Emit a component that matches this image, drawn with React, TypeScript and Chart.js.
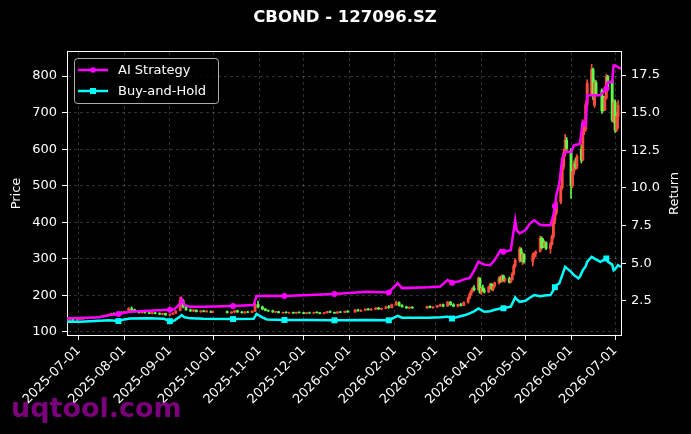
import React, { useEffect, useRef } from 'react';
import { Chart, registerables } from 'chart.js';

Chart.register(...registerables);

// ---------------- DATA ----------------
const chartTitle = 'CBOND - 127096.SZ';
const seriesLabels = ['AI Strategy', 'Buy-and-Hold'];
const leftAxisTitle = 'Price';
const rightAxisTitle = 'Return';
const watermark = 'uqtool.com';

const monthTicks = [
  '2025-07-01', '2025-08-01', '2025-09-01', '2025-10-01', '2025-11-01', '2025-12-01', '2026-01-01',
  '2026-02-01', '2026-03-01', '2026-04-01', '2026-05-01', '2026-06-01', '2026-07-01',
];
const priceTicks = [100, 200, 300, 400, 500, 600, 700, 800];
const returnTicks = [2.5, 5.0, 7.5, 10.0, 12.5, 15.0, 17.5];

const candleDates = [
  '2025-06-23', '2025-06-25', '2025-06-27', '2025-06-30',
  '2025-07-02', '2025-07-04', '2025-07-07', '2025-07-09', '2025-07-11', '2025-07-14', '2025-07-16', '2025-07-18', '2025-07-21', '2025-07-23', '2025-07-25', '2025-07-28', '2025-07-30',
  '2025-08-01', '2025-08-04', '2025-08-06', '2025-08-08', '2025-08-11', '2025-08-13', '2025-08-15', '2025-08-18', '2025-08-20', '2025-08-22', '2025-08-25', '2025-08-27', '2025-08-29',
  '2025-09-01', '2025-09-03', '2025-09-05', '2025-09-08', '2025-09-10', '2025-09-12', '2025-09-15', '2025-09-17', '2025-09-19', '2025-09-22', '2025-09-24', '2025-09-26', '2025-09-29', '2025-09-30',
  '2025-10-10', '2025-10-13', '2025-10-15', '2025-10-17', '2025-10-20', '2025-10-22', '2025-10-24', '2025-10-27', '2025-10-29', '2025-10-31',
  '2025-11-03', '2025-11-05', '2025-11-07', '2025-11-10', '2025-11-12', '2025-11-14', '2025-11-17', '2025-11-19', '2025-11-21', '2025-11-24', '2025-11-26', '2025-11-28',
  '2025-12-01', '2025-12-03', '2025-12-05', '2025-12-08', '2025-12-10', '2025-12-12', '2025-12-15', '2025-12-17', '2025-12-19', '2025-12-22', '2025-12-24', '2025-12-26', '2025-12-29', '2025-12-31',
  '2026-01-05', '2026-01-07', '2026-01-09', '2026-01-12', '2026-01-14', '2026-01-16', '2026-01-19', '2026-01-21', '2026-01-23', '2026-01-26', '2026-01-28', '2026-01-30',
  '2026-02-02', '2026-02-04', '2026-02-06', '2026-02-09', '2026-02-11', '2026-02-13', '2026-02-23', '2026-02-25', '2026-02-27',
  '2026-03-02', '2026-03-04', '2026-03-06', '2026-03-09', '2026-03-11', '2026-03-13', '2026-03-16', '2026-03-18', '2026-03-20',
  '2026-03-23', '2026-03-24', '2026-03-25', '2026-03-26', '2026-03-27', '2026-03-30', '2026-03-31',
  '2026-04-01', '2026-04-02', '2026-04-03', '2026-04-06', '2026-04-07', '2026-04-08', '2026-04-09', '2026-04-10', '2026-04-13', '2026-04-14', '2026-04-15', '2026-04-16', '2026-04-17', '2026-04-20', '2026-04-21', '2026-04-22', '2026-04-23', '2026-04-24', '2026-04-27', '2026-04-28', '2026-04-29', '2026-04-30',
  '2026-05-06', '2026-05-07', '2026-05-08', '2026-05-11', '2026-05-12', '2026-05-13', '2026-05-14', '2026-05-15', '2026-05-18', '2026-05-19', '2026-05-20', '2026-05-21', '2026-05-22', '2026-05-25', '2026-05-26', '2026-05-27', '2026-05-28', '2026-05-29',
  '2026-06-01', '2026-06-02', '2026-06-03', '2026-06-04', '2026-06-05', '2026-06-08', '2026-06-09', '2026-06-10', '2026-06-11', '2026-06-12', '2026-06-15', '2026-06-16', '2026-06-17', '2026-06-18', '2026-06-22', '2026-06-23', '2026-06-24', '2026-06-25', '2026-06-26', '2026-06-29', '2026-06-30',
  '2026-07-01', '2026-07-02', '2026-07-03',
];

const openPrices = [
  131, 132, 133, 132,
  134, 135, 136, 137, 138, 139, 141, 142, 144, 147, 149, 148, 152,
  151, 155, 163, 160, 155, 152, 154, 152, 150, 152, 150, 148, 150,
  146, 148, 151, 158, 186, 168, 160, 157, 159, 155, 157, 155, 156, 153,
  155, 152, 154, 157, 154, 152, 154, 153, 156, 174,
  168, 162, 158, 157, 154, 155, 152, 153, 152, 153, 151, 153,
  152, 150, 152, 151, 153, 152, 150, 152, 155, 153, 151, 154, 153, 156,
  154, 159, 157, 159, 162, 160, 162, 165, 162, 164, 168, 166,
  174, 180, 172, 168, 165, 167, 165, 169, 166,
  168, 171, 174, 170, 181, 174, 170, 175, 172,
  180, 192, 203, 212, 219, 215, 246,
  208, 219, 212, 209, 223, 230, 217, 224, 234, 247, 238, 253, 241, 245, 236, 243, 258, 280, 296, 326, 296, 312,
  292, 310, 314, 320, 356, 350, 334, 344, 328, 340, 360, 405, 425, 455, 495, 552, 590, 625,
  596, 500, 540, 560, 550, 600, 570, 648, 655, 722, 752, 818, 720, 782, 761, 740, 708, 740, 798, 788, 680,
  728, 652, 690,
];
const highPrices = [
  133, 134, 134, 135,
  136, 137, 138, 139, 140, 142, 143, 145, 148, 151, 152, 153, 155,
  156, 166, 168, 162, 157, 155, 156, 154, 153, 153, 152, 151, 151,
  149, 152, 158, 195, 188, 170, 162, 161, 160, 158, 159, 158, 157, 156,
  157, 155, 158, 159, 156, 155, 156, 157, 178, 184,
  170, 164, 160, 159, 156, 156, 154, 155, 154, 154, 154, 155,
  153, 153, 154, 154, 155, 153, 153, 156, 157, 154, 155, 156, 157, 158,
  161, 162, 160, 163, 164, 163, 166, 167, 165, 170, 172, 176,
  184, 182, 174, 170, 168, 169, 170, 171, 169,
  172, 176, 176, 183, 183, 177, 176, 178, 182,
  195, 206, 215, 222, 226, 250, 248,
  222, 228, 220, 225, 233, 232, 226, 236, 250, 252, 256, 255, 248, 250, 246, 262, 284, 300, 332, 330, 318, 314,
  315, 318, 322, 362, 360, 355, 348, 346, 345, 365, 410, 430, 460, 500, 560, 600, 640, 632,
  602, 545, 568, 575, 585, 612, 680, 660, 730, 790, 832, 822, 790, 788, 765, 745, 745, 805, 802, 792, 735,
  735, 700, 733,
];
const lowPrices = [
  129, 130, 131, 131,
  133, 134, 135, 136, 137, 138, 140, 141, 143, 145, 147, 147, 150,
  150, 154, 158, 153, 151, 150, 151, 149, 148, 149, 147, 146, 145,
  144, 147, 150, 157, 165, 158, 155, 155, 154, 153, 154, 153, 152, 152,
  151, 150, 152, 153, 151, 150, 152, 152, 155, 165,
  160, 157, 155, 153, 152, 151, 150, 151, 150, 150, 150, 151,
  149, 149, 150, 150, 151, 149, 149, 151, 152, 150, 150, 152, 152, 153,
  153, 156, 155, 158, 159, 158, 160, 161, 160, 163, 164, 165,
  172, 170, 167, 164, 163, 164, 164, 165, 164,
  166, 169, 168, 169, 172, 168, 168, 170, 171,
  178, 190, 200, 208, 212, 213, 205,
  202, 210, 206, 207, 218, 214, 212, 222, 230, 235, 236, 238, 236, 233, 234, 241, 255, 276, 290, 292, 284, 288,
  280, 300, 305, 318, 326, 330, 330, 325, 315, 336, 355, 395, 420, 450, 490, 545, 580, 595,
  465, 495, 530, 545, 545, 562, 568, 640, 650, 715, 748, 735, 714, 745, 698, 704, 705, 736, 760, 675, 672,
  646, 648, 657,
];
const closePrices = [
  132, 133, 132, 134,
  135, 136, 137, 138, 139, 141, 142, 144, 147, 149, 148, 152, 151,
  155, 163, 160, 155, 152, 154, 152, 150, 152, 150, 148, 150, 146,
  148, 151, 156, 186, 168, 160, 157, 159, 155, 157, 155, 156, 153, 155,
  152, 154, 157, 154, 152, 154, 153, 156, 174, 168,
  162, 158, 157, 154, 155, 152, 153, 152, 153, 151, 153, 152,
  150, 152, 151, 153, 152, 150, 152, 155, 153, 151, 154, 153, 156, 154,
  159, 157, 159, 162, 160, 162, 165, 162, 164, 168, 166, 174,
  180, 172, 168, 165, 167, 165, 169, 166, 168,
  171, 174, 170, 181, 174, 170, 175, 172, 180,
  192, 203, 212, 219, 215, 246, 208,
  219, 212, 209, 223, 230, 217, 224, 234, 247, 238, 253, 241, 245, 236, 243, 258, 280, 296, 326, 296, 312, 292,
  310, 314, 318, 356, 330, 334, 344, 328, 340, 360, 405, 425, 455, 495, 552, 590, 625, 602,
  500, 540, 560, 550, 580, 570, 672, 655, 722, 780, 818, 745, 782, 750, 705, 708, 740, 798, 765, 680, 728,
  652, 690, 720,
];

const lineDates = [
  '2025-06-23', '2025-07-02', '2025-07-15', '2025-07-22', '2025-07-28', '2025-08-01', '2025-08-05', '2025-08-18',
  '2025-08-28', '2025-09-01', '2025-09-04', '2025-09-08', '2025-09-09', '2025-09-11', '2025-09-15', '2025-09-24',
  '2025-10-14', '2025-10-28', '2025-10-30', '2025-11-03', '2025-11-06', '2025-11-18', '2025-12-05', '2025-12-22',
  '2026-01-13', '2026-01-28', '2026-02-03', '2026-02-06', '2026-02-24', '2026-03-04', '2026-03-09', '2026-03-12',
  '2026-03-17', '2026-03-21', '2026-03-24', '2026-03-27', '2026-03-30', '2026-04-03', '2026-04-07', '2026-04-10',
  '2026-04-14', '2026-04-16', '2026-04-21', '2026-04-24', '2026-04-25', '2026-04-27', '2026-05-01', '2026-05-04',
  '2026-05-07', '2026-05-11', '2026-05-14', '2026-05-18', '2026-05-20', '2026-05-21', '2026-05-22', '2026-05-24',
  '2026-05-26', '2026-05-28', '2026-06-01', '2026-06-03', '2026-06-06', '2026-06-07', '2026-06-09', '2026-06-11',
  '2026-06-12', '2026-06-15', '2026-06-17', '2026-06-21', '2026-06-25', '2026-06-26', '2026-06-29', '2026-06-30',
  '2026-07-01', '2026-07-03', '2026-07-05',
];
const aiReturn = [
  1.33, 1.35, 1.40, 1.55, 1.62, 1.70, 1.77, 1.84,
  1.88, 1.90, 1.93, 2.30, 2.62, 2.20, 2.10, 2.10,
  2.15, 2.21, 2.81, 2.82, 2.83, 2.81, 2.88, 2.95,
  3.10, 3.05, 3.67, 3.34, 3.40, 3.45, 3.87, 3.70,
  3.80, 3.95, 4.00, 4.50, 5.09, 4.90, 4.87, 5.20,
  5.86, 5.75, 5.86, 7.85, 7.20, 6.97, 7.19, 7.63,
  7.85, 7.55, 7.52, 7.52, 8.19, 8.80, 9.51, 10.29,
  11.95, 12.39, 12.39, 12.83, 12.90, 12.94, 14.38, 14.16,
  16.15, 16.15, 16.15, 16.15, 16.60, 17.03, 17.03, 18.14,
  18.14, 18.03, 17.92,
];
const bhReturn = [
  1.11, 1.11, 1.17, 1.20, 1.15, 1.26, 1.32, 1.33,
  1.30, 1.14, 1.18, 1.45, 1.55, 1.40, 1.33, 1.30,
  1.28, 1.30, 1.62, 1.40, 1.26, 1.22, 1.22, 1.20,
  1.22, 1.20, 1.50, 1.37, 1.37, 1.40, 1.44, 1.32,
  1.45, 1.55, 1.66, 1.80, 1.99, 1.77, 1.80, 1.90,
  1.99, 2.00, 2.10, 2.72, 2.60, 2.43, 2.50, 2.70,
  2.88, 2.80, 2.85, 2.88, 3.20, 3.40, 3.54, 3.65,
  4.20, 4.75, 4.42, 4.20, 3.99, 4.09, 4.53, 4.80,
  5.10, 5.42, 5.30, 5.09, 5.31, 5.10, 4.90, 4.53,
  4.60, 4.87, 4.75,
];
const markerDates = [
  '2025-07-28', '2025-09-01', '2025-10-14', '2025-11-18', '2025-12-22', '2026-01-28',
  '2026-03-12', '2026-04-16', '2026-05-21', '2026-06-25',
];

// ---------------- HELPERS ----------------
const BASE = Date.UTC(2025, 6, 1);
const toDay = (s: string) => {
  const [y, m, d] = s.split('-').map(Number);
  return (Date.UTC(y, m - 1, d) - BASE) / 86400000;
};
const fmtDay = (v: number) => new Date(BASE + Math.round(v) * 86400000).toISOString().slice(0, 10);

const FONT = "'DejaVu Sans', 'Liberation Sans', sans-serif";
const UP = '#ff4b3c';
const DOWN = '#5dff48';
const MAGENTA = '#ff00ff';
const CYAN = '#00ffff';
const GRID = 'rgba(255,255,255,0.28)';

export default function App() {
  const ref = useRef<HTMLCanvasElement>(null);

  useEffect(() => {
    const candleDays = candleDates.map(toDay);
    const colors = closePrices.map((c, i) => (c >= openPrices[i] ? UP : DOWN));

    const overlay = {
      id: 'overlay',
      beforeDraw(chart: any) {
        const ctx = chart.ctx;
        ctx.save();
        ctx.fillStyle = '#000';
        ctx.fillRect(0, 0, chart.width, chart.height);
        ctx.restore();
      },
      afterDraw(chart: any) {
        const ctx = chart.ctx;
        const a = chart.chartArea;
        ctx.save();
        // top spine
        ctx.strokeStyle = '#ffffff';
        ctx.lineWidth = 1;
        ctx.beginPath();
        ctx.moveTo(Math.round(a.left), Math.round(a.top) - 0.5);
        ctx.lineTo(Math.round(a.right) + 1, Math.round(a.top) - 0.5);
        ctx.stroke();

        // title
        ctx.fillStyle = '#ffffff';
        ctx.font = `bold 16.5px ${FONT}`;
        ctx.textAlign = 'center';
        ctx.textBaseline = 'middle';
        ctx.fillText(chartTitle, 345, 18);

        // axis titles (matplotlib style: both read bottom-to-top)
        const midY = (a.top + a.bottom) / 2;
        ctx.font = `13px ${FONT}`;
        ctx.textAlign = 'center';
        ctx.textBaseline = 'middle';
        ctx.save();
        ctx.translate(17, midY);
        ctx.rotate(-Math.PI / 2);
        ctx.fillText(leftAxisTitle, 0, 0);
        ctx.restore();
        ctx.save();
        ctx.translate(674.5, midY);
        ctx.rotate(-Math.PI / 2);
        ctx.fillText(rightAxisTitle, 0, 0);
        ctx.restore();

        // legend
        const lx = 74.5, ly = 58.5, lw = 144, lh = 45;
        ctx.beginPath();
        if ((ctx as any).roundRect) (ctx as any).roundRect(lx, ly, lw, lh, 3);
        else ctx.rect(lx, ly, lw, lh);
        ctx.fillStyle = 'rgba(0,0,0,0.8)';
        ctx.fill();
        ctx.strokeStyle = 'rgba(205,205,205,0.85)';
        ctx.lineWidth = 1;
        ctx.stroke();
        const entryColors = [MAGENTA, CYAN];
        seriesLabels.forEach((label, i) => {
          const y = 70 + i * 21;
          ctx.strokeStyle = entryColors[i];
          ctx.lineWidth = 2.5;
          ctx.beginPath();
          ctx.moveTo(78, y);
          ctx.lineTo(108, y);
          ctx.stroke();
          ctx.fillStyle = entryColors[i];
          if (i === 0) {
            ctx.beginPath();
            ctx.arc(93, y, 2.8, 0, Math.PI * 2);
            ctx.fill();
          } else {
            ctx.fillRect(90, y - 3, 6, 6);
          }
          ctx.fillStyle = '#ffffff';
          ctx.font = `13px ${FONT}`;
          ctx.textAlign = 'left';
          ctx.textBaseline = 'middle';
          ctx.fillText(label, 118, y + 0.5);
        });

        // watermark
        ctx.fillStyle = 'rgba(170,0,170,0.72)';
        ctx.font = `bold 27px ${FONT}`;
        ctx.textAlign = 'left';
        ctx.textBaseline = 'alphabetic';
        ctx.fillText(watermark, 11, 417);
        ctx.restore();
      },
    };

    const tickFont = { family: FONT, size: 13 };

    const chart = new Chart(ref.current as HTMLCanvasElement, {
      type: 'bar',
      data: {
        datasets: [
          {
            type: 'line',
            label: seriesLabels[0],
            data: lineDates.map((d, i) => ({ x: toDay(d), y: aiReturn[i] })),
            yAxisID: 'y1',
            borderColor: MAGENTA,
            backgroundColor: MAGENTA,
            borderWidth: 2.5,
            pointRadius: lineDates.map((d) => (markerDates.includes(d) ? 3 : 0)),
            pointStyle: 'circle',
            pointBorderWidth: 0,
            tension: 0,
            order: 0,
          } as any,
          {
            type: 'line',
            label: seriesLabels[1],
            data: lineDates.map((d, i) => ({ x: toDay(d), y: bhReturn[i] })),
            yAxisID: 'y1',
            borderColor: CYAN,
            backgroundColor: CYAN,
            borderWidth: 2.5,
            pointRadius: lineDates.map((d) => (markerDates.includes(d) ? 4.2 : 0)),
            pointStyle: 'rect',
            pointBorderWidth: 0,
            tension: 0,
            order: 0,
          } as any,
          {
            type: 'bar',
            label: 'wick',
            data: candleDays.map((x, i) => ({ x, y: [lowPrices[i], highPrices[i]] })),
            yAxisID: 'y',
            backgroundColor: colors,
            borderWidth: 0,
            barThickness: 1,
            grouped: false,
            order: 2,
          } as any,
          {
            type: 'bar',
            label: 'body',
            data: candleDays.map((x, i) => ({
              x,
              y: [Math.min(openPrices[i], closePrices[i]), Math.max(openPrices[i], closePrices[i])],
            })),
            yAxisID: 'y',
            backgroundColor: colors,
            borderWidth: 0,
            barThickness: 2.2,
            grouped: false,
            order: 1,
          } as any,
        ],
      },
      options: {
        responsive: false,
        maintainAspectRatio: false,
        animation: false,
        devicePixelRatio: 1,
        events: [],
        layout: { padding: { top: 52, left: 0, right: 0, bottom: 0 } },
        plugins: {
          legend: { display: false },
          tooltip: { enabled: false },
          title: { display: false },
        },
        scales: {
          x: {
            type: 'linear',
            min: toDay('2025-06-23'),
            max: toDay('2026-07-05'),
            offset: false,
            afterBuildTicks: (s: any) => {
              s.ticks = monthTicks.map((d) => ({ value: toDay(d) }));
            },
            afterFit: (s: any) => {
              s.height = 99;
            },
            ticks: {
              color: '#ffffff',
              font: tickFont,
              minRotation: 45,
              maxRotation: 45,
              autoSkip: false,
              padding: 3,
              callback: (v: any) => fmtDay(Number(v)),
            },
            grid: {
              color: GRID,
              lineWidth: 0.7,
              offset: false,
              tickColor: '#ffffff',
              tickLength: 5,
              tickWidth: 1,
            },
            border: { display: true, color: '#ffffff', width: 1, dash: [3, 3] },
          } as any,
          y: {
            type: 'linear',
            position: 'left',
            min: 91,
            max: 866,
            afterBuildTicks: (s: any) => {
              s.ticks = priceTicks.map((v) => ({ value: v }));
            },
            afterFit: (s: any) => {
              s.width = 67;
            },
            ticks: { color: '#ffffff', font: tickFont, padding: 5 },
            grid: {
              color: GRID,
              lineWidth: 0.7,
              tickColor: '#ffffff',
              tickLength: 5,
              tickWidth: 1,
            },
            border: { display: true, color: '#ffffff', width: 1, dash: [3, 3] },
          } as any,
          y1: {
            type: 'linear',
            position: 'right',
            min: 0.224,
            max: 19.03,
            afterBuildTicks: (s: any) => {
              s.ticks = returnTicks.map((v) => ({ value: v }));
            },
            afterFit: (s: any) => {
              s.width = 70;
            },
            ticks: {
              color: '#ffffff',
              font: tickFont,
              padding: 5,
              callback: (v: any) => Number(v).toFixed(1),
            },
            grid: {
              drawOnChartArea: false,
              tickColor: '#ffffff',
              tickLength: 5,
              tickWidth: 1,
            },
            border: { display: true, color: '#ffffff', width: 1 },
          } as any,
        },
      } as any,
      plugins: [overlay],
    });

    return () => chart.destroy();
  }, []);

  return (
    <div style={{ position: 'fixed', left: 0, top: 0, width: 691, height: 434, background: '#000' }}>
      <canvas ref={ref} width={691} height={434} style={{ display: 'block', width: 691, height: 434 }} />
    </div>
  );
}
